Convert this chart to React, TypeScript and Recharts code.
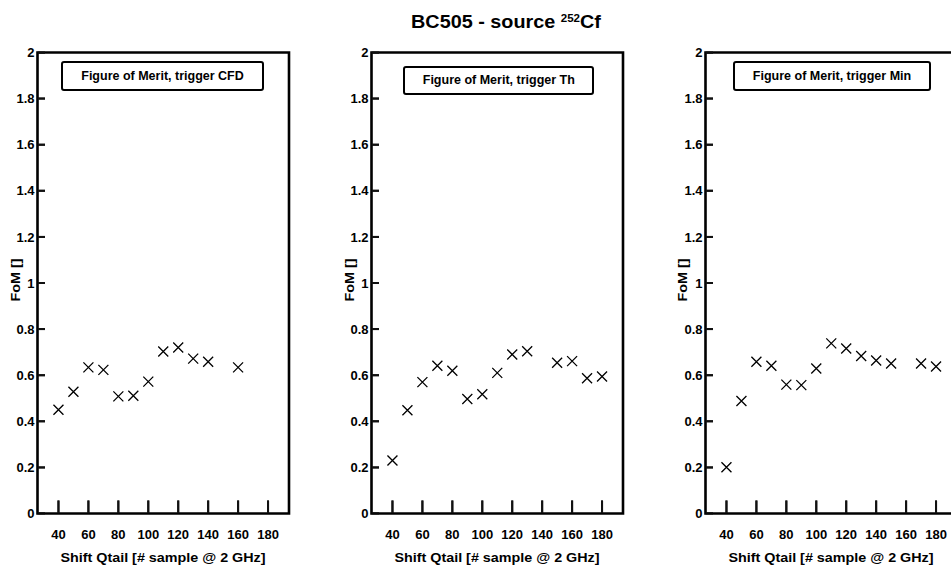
import React from 'react';
import { ScatterChart, Scatter, XAxis, YAxis, ReferenceLine, ReferenceArea } from 'recharts';

// ---------- data ----------
const xTicks = [40, 60, 80, 100, 120, 140, 160, 180];
const yTicks = [0, 0.2, 0.4, 0.6, 0.8, 1, 1.2, 1.4, 1.6, 1.8, 2];

const cfdShift = [40, 50, 60, 70, 80, 90, 100, 110, 120, 130, 140, 160];
const cfdFoM = [0.45, 0.528, 0.634, 0.623, 0.508, 0.511, 0.572, 0.703, 0.72, 0.672, 0.658, 0.634];

const thShift = [40, 50, 60, 70, 80, 90, 100, 110, 120, 130, 150, 160, 170, 180];
const thFoM = [0.23, 0.448, 0.57, 0.641, 0.619, 0.497, 0.517, 0.61, 0.69, 0.704, 0.654, 0.661, 0.587, 0.594];

const minShift = [40, 50, 60, 70, 80, 90, 100, 110, 120, 130, 140, 150, 170, 180];
const minFoM = [0.201, 0.488, 0.658, 0.641, 0.559, 0.557, 0.629, 0.738, 0.716, 0.683, 0.664, 0.651, 0.651, 0.638];

const chartTitle = 'BC505 - source ';
const chartTitleSup = '252';
const chartTitleEnd = 'Cf';
const xTitleText = 'Shift Qtail [# sample @ 2 GHz]';
const yTitleText = 'FoM []';
const legendTexts = ['Figure of Merit, trigger CFD', 'Figure of Merit, trigger Th', 'Figure of Merit, trigger Min'];

// ---------- layout ----------
const FONT = '"Liberation Sans", Arial, Helvetica, sans-serif';
const CHART_W = 317;
const CHART_H = 569;
const PLOT_LEFT = 37.5;
const PLOT_W = 251.5;
const PLOT_TOP = 52.5;
const PLOT_BOTTOM = 513.5;
const X_DOMAIN: [number, number] = [26, 194];
const Y_DOMAIN: [number, number] = [0, 2];
const X_TICK_LEN = (13 / (PLOT_BOTTOM - PLOT_TOP)) * (Y_DOMAIN[1] - Y_DOMAIN[0]);
const Y_TICK_LEN = (7.5 / PLOT_W) * (X_DOMAIN[1] - X_DOMAIN[0]);

const Cross = (props: any) => {
  const { cx, cy } = props;
  const s = 5;
  return (
    <path
      d={`M${cx - s},${cy - s}L${cx + s},${cy + s}M${cx - s},${cy + s}L${cx + s},${cy - s}`}
      stroke="#000"
      strokeWidth={1.3}
      fill="none"
    />
  );
};

const XTickMark = (props: any) => {
  const { cx, cy } = props;
  return <path d={`M${cx},${cy}V${cy - 13}`} stroke="#111" strokeWidth={2} fill="none" />;
};
const YTickMark = (props: any) => {
  const { cx, cy } = props;
  return <path d={`M${cx},${cy}H${cx + 7.5}`} stroke="#111" strokeWidth={2} fill="none" />;
};

const xTickMarkData = xTicks.map((x) => ({ x, y: Y_DOMAIN[0] }));
const yTickMarkData = yTicks.map((y) => ({ x: X_DOMAIN[0], y }));

function Panel({ left, xs, ys }: { left: number; xs: number[]; ys: number[] }) {
  const data = xs.map((x, i) => ({ x, y: ys[i] }));
  return (
    <div style={{ position: 'absolute', left, top: 0, width: CHART_W, height: CHART_H }}>
      <ScatterChart
        width={CHART_W}
        height={CHART_H}
        margin={{ top: PLOT_TOP, right: CHART_W - PLOT_LEFT - PLOT_W, bottom: CHART_H - PLOT_BOTTOM - 50, left: PLOT_LEFT - 30 }}
      >
        <XAxis
          type="number"
          dataKey="x"
          domain={X_DOMAIN}
          ticks={xTicks}
          allowDataOverflow
          height={50}
          interval={0}
          stroke="#000"
          tickLine={false}
          tickSize={4}
          tickMargin={12}
          tick={{ fill: '#000', fontSize: 13, fontWeight: 'bold', fontFamily: FONT }}
        />
        <YAxis
          type="number"
          dataKey="y"
          domain={Y_DOMAIN}
          ticks={yTicks}
          allowDataOverflow
          width={30}
          interval={0}
          stroke="#000"
          tickLine={false}
          tickSize={3}
          tickMargin={0}
          tick={{ fill: '#000', fontSize: 13, fontWeight: 'bold', fontFamily: FONT }}
        />
        <ReferenceArea
          x1={X_DOMAIN[0]}
          x2={X_DOMAIN[1]}
          y1={Y_DOMAIN[0]}
          y2={Y_DOMAIN[1]}
          fill="none"
          fillOpacity={0}
          stroke="#000"
          strokeWidth={2.6}
          ifOverflow="visible"
        />
        {xTicks.map((t) => (
          <ReferenceLine
            key={`xt${t}`}
            segment={[
              { x: t, y: Y_DOMAIN[0] },
              { x: t, y: Y_DOMAIN[0] + X_TICK_LEN },
            ]}
            stroke="#111"
            strokeWidth={2}
            ifOverflow="visible"
          />
        ))}
        {yTicks.map((t) => (
          <ReferenceLine
            key={`yt${t}`}
            segment={[
              { x: X_DOMAIN[0], y: t },
              { x: X_DOMAIN[0] + Y_TICK_LEN, y: t },
            ]}
            stroke="#111"
            strokeWidth={2}
            ifOverflow="visible"
          />
        ))}
        <Scatter data={xTickMarkData} shape={<XTickMark />} isAnimationActive={false} />
        <Scatter data={yTickMarkData} shape={<YTickMark />} isAnimationActive={false} />
        <Scatter data={data} shape={<Cross />} isAnimationActive={false} />
      </ScatterChart>
      <div
        style={{
          position: 'absolute',
          left: PLOT_LEFT + PLOT_W / 2,
          top: 551,
          transform: 'translateX(-50%) scaleX(1.12)',
          whiteSpace: 'nowrap',
          fontFamily: FONT,
          fontWeight: 'bold',
          fontSize: 12.8,
          lineHeight: '14px',
          color: '#000',
        }}
      >
        {xTitleText}
      </div>
      <div
        style={{
          position: 'absolute',
          left: PLOT_LEFT - 22,
          top: 280,
          transform: 'translate(-50%, -50%) rotate(-90deg) scaleX(1.12)',
          whiteSpace: 'nowrap',
          fontFamily: FONT,
          fontWeight: 'bold',
          fontSize: 12.8,
          lineHeight: '14px',
          color: '#000',
        }}
      >
        {yTitleText}
      </div>
    </div>
  );
}

const legendLayout = [
  { left: 61, top: 61, width: 203, height: 29.5 },
  { left: 403.3, top: 65.7, width: 191, height: 29.6 },
  { left: 733, top: 61, width: 198, height: 29.5 },
];

export default function App() {
  return (
    <div
      style={{
        position: 'absolute',
        left: 0,
        top: 0,
        width: 951,
        height: 569,
        overflow: 'hidden',
        background: '#fff',
      }}
    >
      <Panel left={0} xs={cfdShift} ys={cfdFoM} />
      <Panel left={334} xs={thShift} ys={thFoM} />
      <Panel left={667.5} xs={minShift} ys={minFoM} />
      {legendLayout.map((b, i) => (
        <div
          key={i}
          style={{
            position: 'absolute',
            left: b.left,
            top: b.top,
            width: b.width,
            height: b.height,
            boxSizing: 'border-box',
            border: '2px solid #000',
            borderRadius: 3,
            background: '#fff',
            display: 'flex',
            alignItems: 'center',
            justifyContent: 'center',
            fontFamily: FONT,
            fontWeight: 'bold',
            fontSize: 12.5,
            whiteSpace: 'nowrap',
            color: '#000',
          }}
        >
          {legendTexts[i]}
        </div>
      ))}
      <div
        style={{
          position: 'absolute',
          left: 506,
          top: 12.8,
          transform: 'translateX(-50%) scaleX(1.1)',
          whiteSpace: 'nowrap',
          fontFamily: FONT,
          fontWeight: 'bold',
          fontSize: 18,
          lineHeight: '18px',
          color: '#000',
        }}
      >
        {chartTitle}
        <span style={{ fontSize: 10.5, position: 'relative', top: -6 }}>{chartTitleSup}</span>
        {chartTitleEnd}
      </div>
    </div>
  );
}
